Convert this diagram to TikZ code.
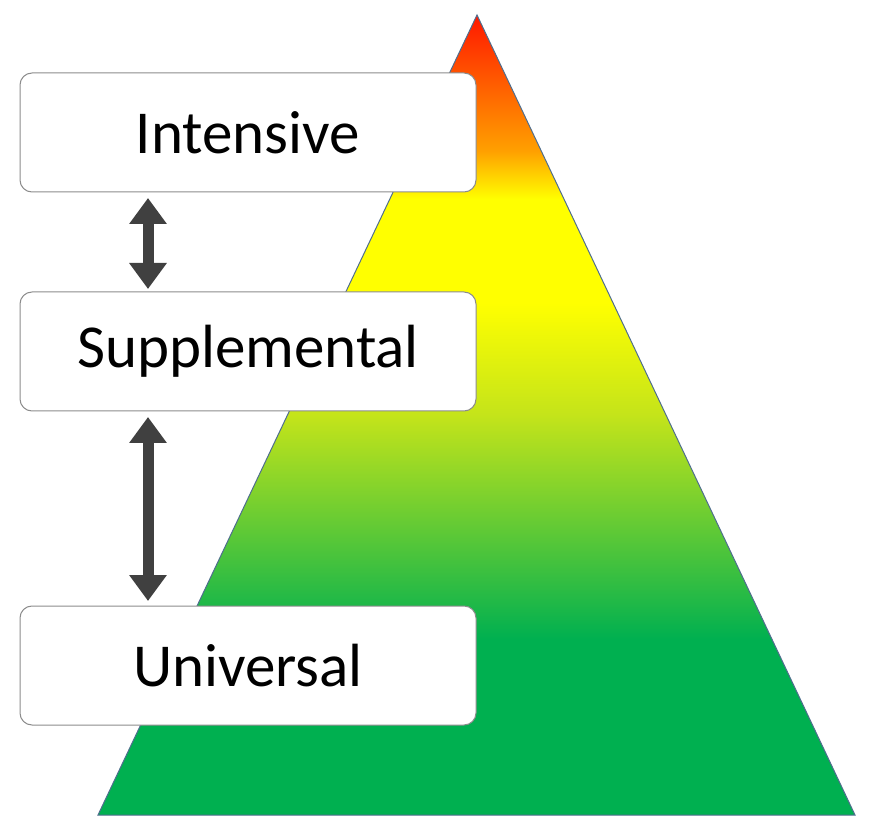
\documentclass[tikz,border=0pt]{standalone}
\usepackage{fontspec}
\setmainfont{Carlito}
\usetikzlibrary{positioning,arrows.meta}
\definecolor{pgreen}{HTML}{00B050}
\definecolor{pyg}{HTML}{C4E41A}
\definecolor{pyellow}{HTML}{FFFF00}
\definecolor{porange}{HTML}{FFA000}
\definecolor{pred}{HTML}{FF1800}
\definecolor{darrow}{HTML}{404040}
\definecolor{pedge}{HTML}{4F6E8E}
\pgfdeclareverticalshading{pyramid}{100bp}{color(0bp)=(pgreen); color(36bp)=(pgreen); color(50bp)=(pyg); color(57bp)=(pyellow); color(63.5bp)=(pyellow); color(66.5bp)=(porange); color(75bp)=(pred); color(100bp)=(pred)}

\begin{document}
\begin{tikzpicture}[
        x=1pt, y=-1pt,
        node distance = 100pt,
        tier/.style = {draw=black!45, line width=1pt, fill=white, rounded corners=12pt, minimum width=456pt, minimum height=119pt, inner sep=0pt, outer sep=0pt, font=\fontsize{61}{70}\selectfont},
        link/.style = {draw=darrow, line width=11pt, {Triangle[width=36pt,length=26pt]}-{Triangle[width=36pt,length=26pt]}, shorten <=1pt, shorten >=1pt}
    ]
        \useasboundingbox (0,0) rectangle (871,826);
        \draw[shading=pyramid, draw=pedge, line width=1pt] (477,15) -- (855,815) -- (98,815) -- cycle;
%
        \node[tier] (int) at (248,132.5) {Intensive};
        \node[tier] (sup) [below=of int]          {Supplemental};
        \node[tier] (uni) [below=195pt of sup]    {Universal};
%
        \draw[link] ([xshift=-100pt,yshift=-5pt]int.south) -- ([xshift=-100pt,yshift=2pt]sup.north);
        \draw[link] ([xshift=-100pt,yshift=-5pt]sup.south) -- ([xshift=-100pt,yshift=4pt]uni.north);
    \end{tikzpicture}
\end{document}
